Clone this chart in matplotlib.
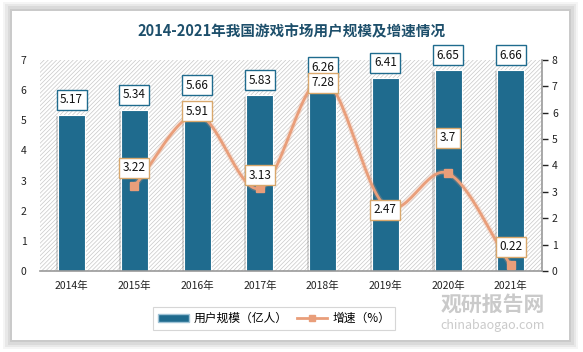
import numpy as np
import matplotlib.pyplot as plt
import matplotlib.patheffects as pe
from matplotlib.patches import Rectangle
from matplotlib.lines import Line2D

plt.rcParams['font.family'] = ['Noto Sans CJK SC', 'DejaVu Sans']
plt.rcParams['hatch.color'] = '#c4c4c4'
plt.rcParams['hatch.linewidth'] = 0.5

# data
years = ['2014年', '2015年', '2016年', '2017年', '2018年', '2019年', '2020年', '2021年']
users = [5.17, 5.34, 5.66, 5.83, 6.26, 6.41, 6.65, 6.66]      # 亿人
growth_years = ['2015年', '2016年', '2017年', '2018年', '2019年', '2020年', '2021年']
growth = [3.22, 5.91, 3.13, 7.28, 2.47, 3.7, 0.22]             # %
growth_label_shift = [0.7, 0.15, 0.5, -0.15, -0.15, 1.35, 0.7]

bar_color = '#1f6b8e'
line_color = '#e99e7a'
title_color = '#1d4f6b'

fig = plt.figure(figsize=(5.83, 3.52), dpi=100)
fig.patch.set_facecolor('white')

# card with soft shadow
for i, a in enumerate([0.04, 0.05, 0.06, 0.07]):
    d = (4 - i) * 0.004
    fig.patches.append(Rectangle((0.021 - d, 0.034 - d * 1.6), 0.955 + 2 * d, 0.935 + 2 * d * 1.6,
                                 transform=fig.transFigure, facecolor='black', alpha=a,
                                 edgecolor='none', zorder=0))
fig.patches.append(Rectangle((0.021, 0.034), 0.955, 0.935, transform=fig.transFigure,
                             facecolor='white', edgecolor='none', zorder=1))

ax = fig.add_axes([0.069, 0.230, 0.861, 0.600])
ax.set_zorder(2)
ax.patch.set_alpha(0)
# light diagonal hatching behind the plot
ax.add_patch(Rectangle((0, 0), 1, 1, transform=ax.transAxes, facecolor='white',
                       edgecolor='#c8c8c8', linewidth=0, hatch='////////', zorder=0))

x = np.arange(len(years))
bars = ax.bar(x, users, width=0.43, color=bar_color, edgecolor='white', linewidth=0.8, zorder=2)
for b in bars:
    b.set_path_effects([pe.SimplePatchShadow(offset=(-1.5, -1), alpha=0.2, shadow_rgbFace='#444444'),
                        pe.Normal()])

ax.set_xlim(-0.5, len(years) - 0.5)
ax.set_ylim(0, 7)
ax.set_yticks(range(0, 8))
ax.set_xticks(x)
ax.set_xticklabels(years)
ax.tick_params(axis='y', length=0, labelsize=7.5, colors='#222222', pad=10)
ax.tick_params(axis='x', length=0, labelsize=7.5, colors='#222222', pad=7)
for s in ['top', 'right', 'left']:
    ax.spines[s].set_visible(False)
ax.spines['bottom'].set_color('#999999')
ax.spines['bottom'].set_linewidth(1.2)

for xi, v in zip(x, users):
    ax.text(xi, v + 0.5, f'{v:.2f}', ha='center', va='center', fontsize=8.5, color='#111111', zorder=6,
            bbox=dict(boxstyle='square,pad=0.3', facecolor='white', edgecolor=bar_color, linewidth=1))

ax2 = ax.twinx()
ax2.set_ylim(0, 8)
ax2.set_yticks(range(0, 9))
ax2.tick_params(axis='y', labelsize=7.5, colors='#222222', length=4, width=1, pad=3)
for t in ax2.get_yticklines():
    t.set_color('#999999')
for s in ['top', 'left', 'bottom']:
    ax2.spines[s].set_visible(False)
ax2.spines['right'].set_color('#999999')
ax2.spines['right'].set_linewidth(1.2)

# smoothed curve through the growth points (Catmull-Rom)
gx = np.array([years.index(y) for y in growth_years], dtype=float)
gy = np.array(growth)
px = np.concatenate([[2 * gx[0] - gx[1]], gx, [2 * gx[-1] - gx[-2]]])
py = np.concatenate([[2 * gy[0] - gy[1]], gy, [2 * gy[-1] - gy[-2]]])
cx, cy = [], []
tt = np.linspace(0, 1, 30)
for i in range(1, len(px) - 2):
    for arr, out in ((px, cx), (py, cy)):
        p0, p1, p2, p3 = arr[i - 1], arr[i], arr[i + 1], arr[i + 2]
        out.extend(0.5 * ((2 * p1) + (-p0 + p2) * tt + (2 * p0 - 5 * p1 + 4 * p2 - p3) * tt ** 2
                          + (-p0 + 3 * p1 - 3 * p2 + p3) * tt ** 3))
ax2.plot(cx, cy, color=line_color, linewidth=2, zorder=3,
         path_effects=[pe.Stroke(linewidth=4, foreground=line_color, alpha=0.25), pe.Normal()])
ax2.plot(gx, gy, linestyle='none', marker='s', markersize=6, color=line_color, zorder=4)

for xi, v, dy in zip(gx, growth, growth_label_shift):
    ax2.text(xi, v + dy, f'{v:g}', ha='center', va='center', fontsize=8.5, color='#111111', zorder=7,
             bbox=dict(boxstyle='square,pad=0.3', facecolor='white', edgecolor='#d9a86c', linewidth=1))

fig.text(0.5, 0.91, '2014-2021年我国游戏市场用户规模及增速情况', ha='center', va='center',
         fontsize=10.5, fontweight='bold', color=title_color)

handles = [Rectangle((0, 0), 1, 1, facecolor=bar_color, edgecolor='#9fc3d6'),
           Line2D([0], [0], color=line_color, linewidth=2, marker='s', markersize=5)]
leg = fig.legend(handles, ['用户规模（亿人）', '增速（%）'], loc='center', bbox_to_anchor=(0.47, 0.095),
                 ncol=2, fontsize=8.5, frameon=True, fancybox=False, edgecolor='#cccccc',
                 handlelength=2.6, columnspacing=0.8, handletextpad=0.4, borderpad=0.45)
leg.get_frame().set_linewidth(0.8)

# watermark
fig.text(0.845, 0.135, '观研报告网', ha='center', va='center', fontsize=15, fontweight='bold',
         color='#bdbdbd', alpha=0.8, zorder=10)
fig.text(0.845, 0.075, 'chinabaogao.com', ha='center', va='center', fontsize=9,
         color='#bdbdbd', alpha=0.8, zorder=10)

fig.savefig('out.png', dpi=100)
